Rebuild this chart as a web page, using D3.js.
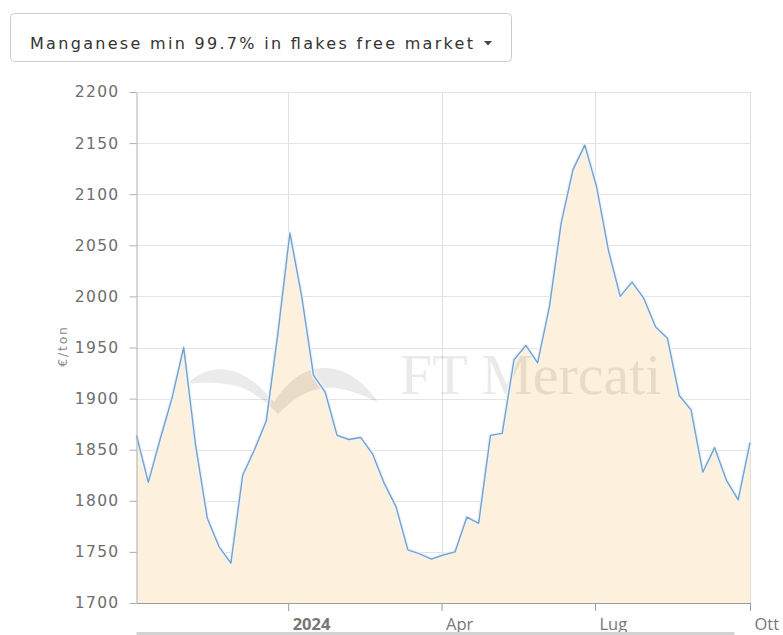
<!DOCTYPE html>
<html>
<head>
<meta charset="utf-8">
<script src="https://cdn.jsdelivr.net/npm/d3@7"></script>
<style>
  html, body { margin: 0; padding: 0; background: #fff; }
  svg { display: block; }
</style>
</head>
<body>
<svg id="chart" width="783" height="635"></svg>
<script>
// ---- data ----
const title = "Manganese min 99.7% in flakes free market";
const unitLabel = "€/ton";
const dates = [
  "2023-10-03","2023-10-10","2023-10-17","2023-10-24","2023-10-31",
  "2023-11-07","2023-11-14","2023-11-21","2023-11-28","2023-12-05",
  "2023-12-12","2023-12-19","2023-12-26","2024-01-02","2024-01-09",
  "2024-01-16","2024-01-23","2024-01-30","2024-02-06","2024-02-13",
  "2024-02-20","2024-02-27","2024-03-05","2024-03-12","2024-03-19",
  "2024-03-26","2024-04-02","2024-04-09","2024-04-16","2024-04-23",
  "2024-04-30","2024-05-07","2024-05-14","2024-05-21","2024-05-28",
  "2024-06-04","2024-06-11","2024-06-18","2024-06-25","2024-07-02",
  "2024-07-09","2024-07-16","2024-07-23","2024-07-30","2024-08-06",
  "2024-08-13","2024-08-20","2024-08-27","2024-09-03","2024-09-10",
  "2024-09-17","2024-09-24","2024-10-01"
];
const prices = [
  1864, 1818, 1860, 1900, 1950,
  1855, 1783, 1755, 1739, 1825,
  1850, 1878, 1965, 2062, 2000,
  1923, 1906, 1864, 1860, 1862,
  1846, 1817, 1794, 1752, 1748,
  1743, 1747, 1750, 1784, 1778,
  1864, 1866, 1938, 1952, 1935,
  1990, 2072, 2124, 2148, 2107,
  2045, 2000, 2014, 1998, 1970,
  1959, 1903, 1889, 1828, 1852,
  1820, 1801, 1857
];
const yTicks = [1700, 1750, 1800, 1850, 1900, 1950, 2000, 2050, 2100, 2150, 2200];
const xTickDates = ["2024-01-01", "2024-04-01", "2024-07-01", "2024-10-01"];
const xTickLabels = ["2024", "Apr", "Lug", "Ott"];

// ---- layout ----
const svg = d3.select("#chart");
const plotL = 136.5, plotR = 750, plotT = 92, plotB = 603;
const parse = d3.timeParse("%Y-%m-%d");
const data = dates.map((d, i) => ({ date: parse(d), value: prices[i] }));

const x = d3.scaleTime()
  .domain(d3.extent(data, d => d.date))
  .range([plotL, plotR]);
const y = d3.scaleLinear()
  .domain([yTicks[0], yTicks[yTicks.length - 1]])
  .range([plotB, plotT]);

// ---- title button ----
const btn = svg.append("g");
btn.append("rect")
  .attr("x", 10.5).attr("y", 13.5).attr("width", 501).attr("height", 48)
  .attr("rx", 4).attr("ry", 4)
  .attr("fill", "#fff").attr("stroke", "#cccccc");
btn.append("text")
  .attr("x", 30).attr("y", 49)
  .attr("font-family", "DejaVu Sans, Verdana, sans-serif")
  .attr("font-size", 16)
  .attr("fill", "#333")
  .attr("textLength", 443).attr("lengthAdjust", "spacing")
  .text(title);
btn.append("path")
  .attr("d", "M484,41 L492,41 L488,45.5 Z")
  .attr("fill", "#444");

// ---- grid ----
const grid = svg.append("g");
grid.selectAll("line.h").data(yTicks).join("line")
  .attr("x1", plotL).attr("x2", plotR)
  .attr("y1", d => Math.round(y(d)) + 0.5).attr("y2", d => Math.round(y(d)) + 0.5)
  .attr("stroke", "#e3e3e3").attr("stroke-width", 1);
grid.selectAll("line.v").data(xTickDates).join("line")
  .attr("x1", d => Math.round(x(parse(d))) + 0.5).attr("x2", d => Math.round(x(parse(d))) + 0.5)
  .attr("y1", plotT).attr("y2", plotB)
  .attr("stroke", "#e0e0e0").attr("stroke-width", 1);

// ---- area + line ----
const area = d3.area()
  .x(d => x(d.date))
  .y0(y(yTicks[0]))
  .y1(d => y(d.value));
const line = d3.line()
  .x(d => x(d.date))
  .y(d => y(d.value));

svg.append("path").datum(data)
  .attr("d", area)
  .attr("fill", "#fdf0dc");

// ---- watermark ----
const wm = svg.append("g").attr("opacity", 0.08);
wm.append("path")
  .attr("d", "M188,384 C200,370 218,366 236,372 C252,378 264,390 274,402 C286,384 302,368 324,368 C346,368 364,382 378,402 C360,394 342,386 324,388 C304,390 290,402 278,414 C266,402 252,390 236,386 C220,382 204,382 188,384 Z")
  .attr("fill", "#000");
wm.append("text")
  .attr("x", 400).attr("y", 394)
  .attr("font-family", "Liberation Serif, Times New Roman, serif")
  .attr("font-size", 58)
  .attr("fill", "#000")
  .text("FT Mercati");

svg.append("path").datum(data)
  .attr("d", line)
  .attr("fill", "none")
  .attr("stroke", "#eaf5ff")
  .attr("stroke-width", 4)
  .attr("stroke-linejoin", "round");
svg.append("path").datum(data)
  .attr("d", line)
  .attr("fill", "none")
  .attr("stroke", "#7ba0c4")
  .attr("stroke-width", 1.4)
  .attr("stroke-linejoin", "round");

// ---- y axis ----
const yAxis = svg.append("g")
  .attr("transform", `translate(${plotL},0)`)
  .call(d3.axisLeft(y).tickValues(yTicks).tickFormat(d3.format("d"))
    .tickSize(7).tickPadding(10).tickSizeOuter(0));
yAxis.select(".domain").attr("stroke", "#b0b0b0");
yAxis.selectAll(".tick line").attr("stroke", "#b0b0b0");
yAxis.selectAll(".tick text")
  .attr("font-family", "DejaVu Sans, Verdana, sans-serif")
  .attr("font-size", 15.5)
  .attr("letter-spacing", "1.3px")
  .attr("fill", "#6e6e6e");

svg.append("text")
  .attr("transform", "translate(67,346) rotate(-90)")
  .attr("text-anchor", "middle")
  .attr("font-family", "DejaVu Sans, Verdana, sans-serif")
  .attr("font-size", 12.5)
  .attr("letter-spacing", "1.8px")
  .attr("fill", "#888")
  .text(unitLabel);

// ---- x axis ----
const xAxis = svg.append("g")
  .attr("transform", `translate(0,${plotB})`)
  .call(d3.axisBottom(x)
    .tickValues(xTickDates.map(parse))
    .tickSize(8).tickSizeOuter(0)
    .tickFormat((d, i) => xTickLabels[i]));
xAxis.select(".domain").attr("stroke", "#9a9a9a");
xAxis.selectAll(".tick line").attr("stroke", "#9a9a9a");
xAxis.selectAll(".tick text")
  .attr("text-anchor", "start")
  .attr("x", 4).attr("y", 15).attr("dy", "0.71em")
  .attr("font-family", "Open Sans, sans-serif")
  .attr("font-size", 16.5)
  .attr("fill", "#777")
  .attr("font-weight", (d, i) => i === 0 ? "bold" : "normal");

// bottom navigator strip
svg.append("rect")
  .attr("x", plotL).attr("y", 632).attr("width", 598).attr("height", 3)
  .attr("fill", "#d3d3d3");
</script>
</body>
</html>
